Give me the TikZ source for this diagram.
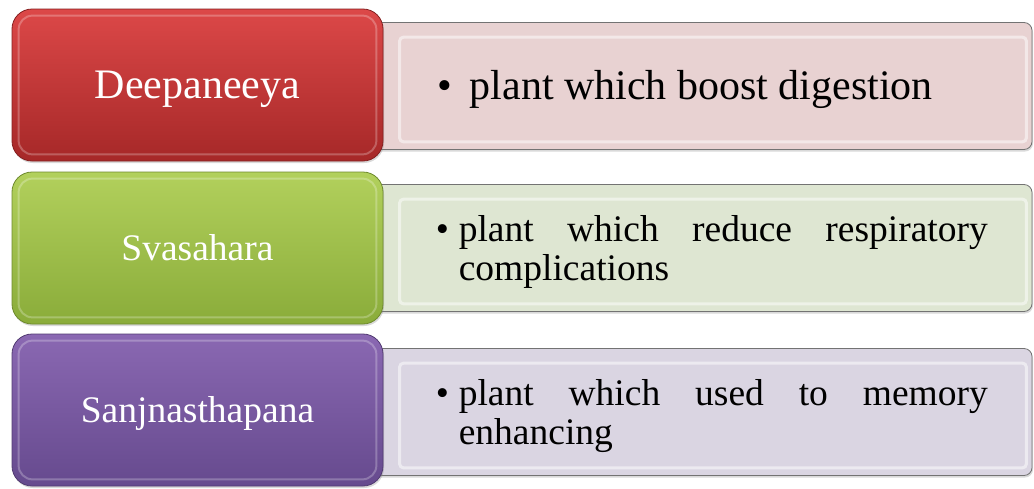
\documentclass[tikz,border=0pt]{standalone}
\usepackage{fontspec}
\setmainfont{Liberation Serif}
\usetikzlibrary{positioning,shadows}

\definecolor{redTop}{RGB}{220,72,72}
\definecolor{redBot}{RGB}{166,40,40}
\definecolor{greenTop}{RGB}{178,208,92}
\definecolor{greenBot}{RGB}{138,172,58}
\definecolor{purpleTop}{RGB}{138,104,178}
\definecolor{purpleBot}{RGB}{102,74,142}
\definecolor{redLight}{RGB}{232,210,210}
\definecolor{greenLight}{RGB}{222,230,210}
\definecolor{purpleLight}{RGB}{218,213,226}

\begin{document}
\begin{tikzpicture}[x=1pt,y=-1pt,
    name box/.style={rectangle, rounded corners=20pt, minimum width=371pt,
      minimum height=152pt, inner sep=0pt, text=white, draw=#1Bot!80!black,
      line width=0.8pt, top color=#1Top, bottom color=#1Bot,
      drop shadow={opacity=0.3, shadow xshift=1pt, shadow yshift=-2pt}},
    desc box/.style={rectangle, rounded corners=8pt, minimum width=662pt,
      minimum height=127pt, inner sep=0pt, draw=black!55, line width=0.8pt,
      fill=#1Light,
      drop shadow={opacity=0.3, shadow xshift=1pt, shadow yshift=-2pt}},
    desc text/.style={anchor=west, inner sep=0pt, align=justify}]
  \useasboundingbox (0,0) rectangle (1034,488);

  % Description boxes (behind)
  \foreach \n/\y/\c in {deep/86/red,svas/248/green,sanj/412/purple}
    \node[desc box=\c] (\n-box) at (701,\y) {};

  % Bevel highlights on the description boxes
  \foreach \n in {deep,svas,sanj}
    \draw[white, opacity=0.5, line width=3pt, rounded corners=4pt]
      ([xshift=30pt,yshift=-15pt]\n-box.north west) rectangle
      ([xshift=-6pt,yshift=8pt]\n-box.south east);

  % Name boxes
  \foreach \n/\y/\c/\s/\lab in {deep/85/red/42/Deepaneeya,
      svas/248/green/37.5/Svasahara,sanj/410/purple/37.5/Sanjnasthapana}
    \node[name box=\c, font=\fontsize{\s}{\s}\selectfont,
      text height=\dimexpr\s pt*9/10\relax,
      text depth=\dimexpr\s pt*24/100\relax]
      (\n-name) at (197.5,\y) {\lab};

  % Bevel highlights on the name boxes
  \foreach \n in {deep,svas,sanj}
    \draw[white, opacity=0.25, line width=2pt, rounded corners=14pt]
      ([xshift=7pt,yshift=-7pt]\n-name.north west) rectangle
      ([xshift=-7pt,yshift=7pt]\n-name.south east);

  % Description texts
  \node[desc text, font=\fontsize{42}{46}\selectfont,
    text height=37.8pt, text depth=10.1pt,
    right=68pt of deep-box.west] (deep-text)
    {\makebox[32pt][l]{\textbullet}plant which boost digestion};
  \node[desc text, text width=552pt, font=\fontsize{37.5}{39}\selectfont,
    right=66pt of svas-box.west, yshift=-4pt] (svas-text)
    {\tolerance=10000\hyphenpenalty=10000\hangindent=23pt\hangafter=1\noindent
     \makebox[23pt][l]{\textbullet}plant which reduce respiratory complications\par};
  \node[desc text, text width=552pt, font=\fontsize{37.5}{39}\selectfont,
    right=66pt of sanj-box.west, yshift=-4pt] (sanj-text)
    {\tolerance=10000\hyphenpenalty=10000\hangindent=23pt\hangafter=1\noindent
     \makebox[23pt][l]{\textbullet}plant which used to memory enhancing\par};
\end{tikzpicture}
\end{document}
